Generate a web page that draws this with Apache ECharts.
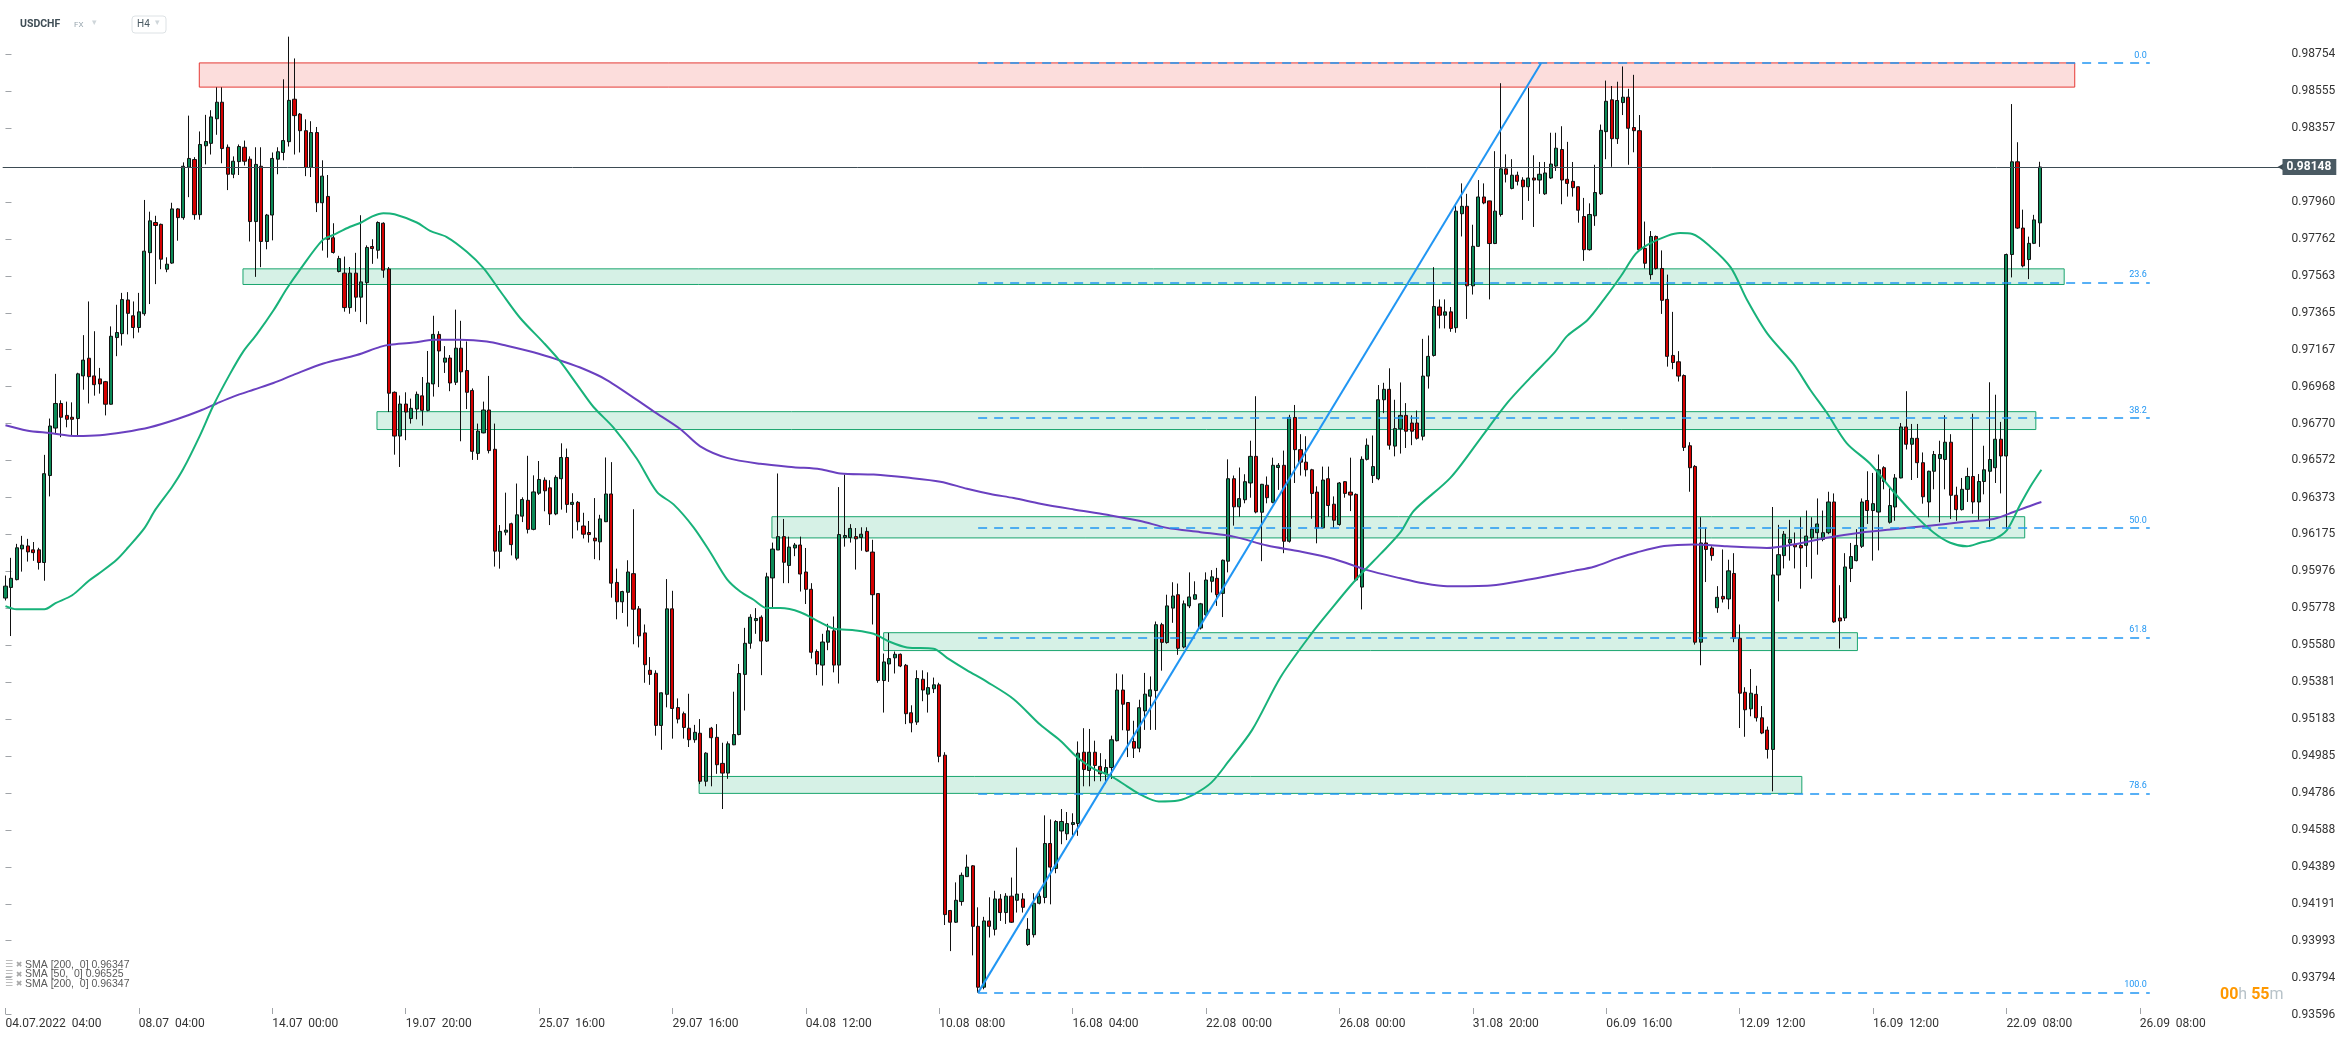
<!DOCTYPE html>
<html><head><meta charset="utf-8">
<script src="https://cdn.jsdelivr.net/npm/echarts@6/dist/echarts.min.js"></script>
<style>html,body{margin:0;padding:0;background:#fff;}#c{width:2346px;height:1039px;}</style>
</head><body><div id="c"></div>
<script>
// ---------- DATA (prices in 1e-5 units) ----------
const opens = [
95833,95890,95932,96097,96113,96092,96092,96024,96491,96746,
96878,96814,96804,96797,97026,97121,97026,97010,96995,96874,
97232,97253,97434,97349,97286,97360,97688,97850,97840,97599,
97632,97923,97876,98147,98188,97892,98262,98275,98407,98496,
98254,98109,98177,98254,98190,97855,98152,97748,97890,98190,
98226,98284,98512,98432,98343,98146,98333,97956,97990,97768,
97587,97578,97393,97578,97449,97527,97721,97701,97846,97600,
96938,96703,96875,96797,96848,96919,96841,96983,97249,97100,
97122,96992,97175,97055,96948,96610,96720,96843,96632,96084,
96187,96232,96047,96273,96358,96202,96396,96466,96425,96285,
96474,96588,96336,96347,96220,96185,96155,96135,96243,96392,
95917,95813,95864,95964,95775,95646,95445,95429,95149,95316,
95775,95245,95212,95134,95072,95107,94849,95134,95085,94945,
94893,95045,95100,95423,95590,95712,95730,95602,95941,96091,
96163,96008,96102,96118,95973,95880,95546,95473,95596,95657,
95473,96158,96158,96163,96158,96191,96080,95857,95390,95479,
95512,95531,95472,95217,95167,95397,95317,95346,95367,94989,
94155,94092,94203,94337,94395,94070,93743,94099,94054,94217,
94144,94232,94210,94217,93972,94025,94194,94225,94515,94381,
94582,94567,94617,94622,95005,94907,95005,94929,94889,94923,
95067,95339,95272,95063,95027,95227,95306,95336,95690,95594,
95779,95851,95570,95791,95827,95672,95743,95923,95939,95858,
96031,96474,96323,96361,96451,96594,96294,96439,96347,96534,
96546,96138,96803,96630,96563,96522,96402,96210,96474,96337,
96228,96458,96402,96390,95892,96578,96491,96474,96898,96954,
96649,96742,96814,96773,96773,96702,97025,97136,97396,97352,
97370,97285,97897,97937,97510,97722,97987,97966,97737,97893,
98138,98033,98104,98078,98042,98089,98078,98004,98089,98153,
98242,98082,98071,98042,97882,97704,97886,98004,98338,98509,
98300,98494,98523,98360,98343,97711,97570,97775,97603,97437,
97136,97102,97028,96651,96540,95596,96129,96102,95781,95842,
95828,95965,95617,95327,95238,95316,95190,95124,95020,95957,
96061,96129,96121,96116,96116,96157,96184,96148,96184,96349,
95726,95726,95992,96034,96111,96357,96303,96295,96533,96240,
96322,96478,96752,96659,96691,96560,96349,96514,96582,96577,
96670,96385,96308,96417,96486,96349,96459,96514,96533,96686,
96596,97678,98176,97820,97651,97738,97848];
const highs = [
95954,96049,96124,96167,96151,96134,96103,96602,96797,97037,
96895,96888,96884,97043,97245,97426,97266,97069,96999,97292,
97408,97472,97476,97426,97472,97971,97908,97886,97844,97663,
97956,97927,98173,98424,98201,98339,98428,98453,98576,98576,
98269,98205,98269,98290,98205,98254,98254,97896,98226,98254,
98619,98848,98731,98438,98404,98394,98363,98184,98105,97846,
97671,97667,97611,97687,97889,97727,97760,97856,97851,97611,
96943,96921,96938,96904,96942,97020,97160,97349,97266,97186,
97138,97382,97322,97211,96959,96770,96888,97026,96770,96225,
96399,96238,96448,96374,96597,96492,96569,96481,96466,96492,
96664,96636,96396,96354,96291,96247,96370,96280,96588,96563,
95991,95872,96036,96310,95790,95691,95516,95445,95326,95935,
95872,95294,95223,95319,95152,95183,95005,95141,95156,95056,
95063,95330,95479,95673,95746,95779,95740,95969,96131,96502,
96258,96163,96129,96163,96102,95913,95557,95641,95695,95734,
96429,96496,96230,96209,96213,96213,96146,95857,95535,95646,
95546,95535,95479,95257,95445,95445,95434,95406,95378,95005,
94158,94306,94359,94455,94399,94172,94121,94226,94261,94243,
94248,94332,94493,94248,94114,94248,94248,94666,94644,94640,
94700,94684,94677,95063,95134,95130,95067,95000,94967,95094,
95428,95423,95274,95174,95287,95431,95412,95707,95700,95851,
95918,95911,95820,95971,95923,95807,95971,95983,95995,96040,
96578,96491,96534,96498,96678,96917,96446,96486,96587,96558,
96625,96817,96870,96713,96702,96527,96433,96539,96539,96379,
96456,96461,96587,96395,96594,96690,96706,96977,96989,97067,
96898,96991,96880,96814,96840,97225,97243,97610,97437,97437,
97396,97942,98060,98004,97838,98078,98060,97967,98233,98598,
98216,98190,98123,98093,98572,98211,98175,98175,98332,98332,
98367,98283,98175,98044,97982,97953,98160,98376,98612,98583,
98606,98688,98568,98643,98427,97855,97804,97780,97700,97570,
97370,97159,97034,96670,96547,96267,96212,96111,95897,96094,
96039,96074,95691,95354,95452,95362,95253,95143,96322,96226,
96193,96253,96185,96267,96303,96267,96368,96303,96404,96395,
95902,96074,96129,96203,96368,96514,96505,96604,96541,96423,
96499,96773,96944,96768,96768,96615,96517,96623,96678,96815,
96713,96431,96478,96533,96823,96499,96651,96992,96925,96779,
97683,98486,98281,97919,97774,97891,98176];
const lows = [
95820,95629,95928,95975,96029,96033,95986,95926,96379,96719,
96697,96750,96707,96707,96952,96878,96920,96931,96814,96872,
97132,97189,97249,97228,97259,97349,97412,97519,97599,97583,
97628,97752,97865,97986,97865,97865,98162,98215,98321,98168,
98024,98088,98105,98156,97748,97558,97610,97706,97754,98109,
98184,98258,98215,98226,98099,98094,97906,97699,97661,97683,
97582,97371,97360,97371,97315,97304,97628,97656,97553,96832,
96603,96537,96681,96770,96793,96759,96836,96915,96966,97042,
96944,96977,96675,96848,96575,96575,96718,96610,96002,95991,
96170,96062,96036,96241,96180,96197,96387,96299,96225,96278,
96308,96291,96153,96196,96153,96131,96042,96036,96241,95835,
95719,95753,95680,95585,95568,95378,95367,95094,95018,95246,
95078,95160,95078,95033,95056,94834,94822,94822,94889,94700,
94862,95043,95096,95229,95561,95641,95419,95597,95784,96091,
95913,95913,96058,95868,95801,95508,95419,95363,95553,95434,
95374,96109,96131,95986,96087,96080,95691,95378,95218,95383,
95428,95462,95156,95112,95152,95279,95218,95323,94951,94077,
93937,94088,94181,94336,93914,93714,93732,94010,94021,94099,
94083,94088,94144,94144,93965,94010,94188,94194,94188,94355,
94511,94533,94560,94556,94822,94822,94849,94849,94834,94862,
95063,95123,94979,94974,95005,95125,95125,95125,95443,95588,
95700,95528,95563,95779,95825,95664,95736,95863,95791,95731,
95971,96222,96270,96342,96372,96288,96031,96342,96342,96414,
96074,96131,96451,96491,96486,96259,96127,96207,96270,96210,
96222,96372,96300,95923,95772,96572,96451,96466,96826,96630,
96594,96609,96639,96654,96684,96680,96958,97130,97281,97281,
97263,97258,97775,97332,97463,97719,97948,97437,97734,97882,
98065,98028,98049,97864,97966,97826,98004,97998,98084,98127,
97948,97989,97989,97849,97644,97699,97832,97998,98190,98149,
98272,98427,98160,98227,97699,97603,97543,97597,97359,97076,
97062,96996,96623,96404,95583,95472,95919,96034,95754,95809,
95773,95596,95135,95088,95198,95170,95102,94971,94795,95815,
95992,96034,95992,95883,96000,95937,96066,96138,96176,95700,
95562,95710,95919,96030,96102,96231,96034,96089,96417,96233,
96248,96476,96631,96467,96478,96340,96267,96417,96240,96417,
96258,96248,96303,96349,96286,96253,96390,96203,96451,96395,
96203,97555,97815,97609,97546,97734,97719];
const closes = [
95897,95939,96103,96117,96081,96077,96024,96501,96757,96878,
96804,96793,96793,97037,97111,97022,96979,96983,96874,97239,
97259,97436,97362,97286,97370,97696,97859,97834,97653,97626,
97923,97876,98152,98194,97892,98269,98285,98417,98496,98247,
98109,98179,98258,98179,97855,98162,97748,97890,98194,98230,
98290,98506,98424,98343,98146,98333,97956,98099,97760,97689,
97656,97393,97578,97449,97531,97716,97710,97850,97594,96933,
96703,96875,96832,96852,96927,96841,96988,97249,97160,97122,
96988,97175,97048,96938,96621,96730,96843,96625,96085,96191,
96198,96120,96280,96362,96202,96403,96470,96409,96285,96481,
96588,96336,96347,96243,96176,96174,96140,96258,96392,95913,
95813,95868,95973,95773,95630,95475,95423,95149,95324,95775,
95240,95183,95138,95072,95112,94849,95000,95083,94938,94893,
95050,95100,95428,95590,95730,95723,95602,95947,96096,96163,
96025,96107,96118,95962,95880,95542,95479,95597,95657,95473,
96174,96169,96207,96151,96176,96085,95851,95390,95490,95508,
95531,95468,95212,95163,95401,95339,95352,95367,94983,94133,
94092,94210,94344,94388,94070,93743,94099,94070,94217,94144,
94232,94092,94243,94172,94054,94194,94232,94515,94388,94633,
94633,94622,94627,95000,94912,95005,94934,94889,94923,95072,
95339,95263,95123,95027,95244,95317,95340,95690,95595,95791,
95844,95563,95802,95839,95851,95802,95930,95947,95851,96036,
96474,96323,96367,96458,96594,96295,96444,96372,96546,96546,
96138,96803,96630,96563,96522,96395,96210,96467,96330,96251,
96451,96395,96386,95930,96578,96654,96539,96898,96954,96654,
96743,96814,96729,96729,96691,97025,97131,97399,97352,97370,
97281,97911,97937,97510,97722,97987,97955,97737,97911,98138,
98109,98104,98071,98042,98089,98078,98109,98116,98164,98249,
98078,98060,98037,97916,97704,97893,98011,98345,98501,98300,
98505,98523,98356,98343,97704,97631,97775,97603,97432,97131,
97098,97025,96642,96533,95596,96129,96094,96061,95837,95828,
95979,95617,95322,95233,95322,95190,95108,95020,95957,96066,
96176,96148,96108,96102,96166,96203,96231,96184,96349,95705,
95710,96000,96056,96116,96349,96303,96340,96522,96459,96330,
96478,96752,96659,96691,96560,96377,96514,96604,96604,96670,
96385,96308,96417,96486,96349,96459,96522,96577,96686,96596,
97678,98176,97820,97617,97738,97864,98148];

// SMA lines: candle index and value (1e-5 units)
const sma50Idx = [0,2,7,9,12,15,17,20,22,25,27,30,32,35,37.4,40.4,42.8,45.2,48.2,50.6,53,57,59,62,64,66,68,70,74,76.4,79.4,83,86,89,92.6,96.8,99.8,103,105.8,109.4,113.6,117.2,120.2,123.8,126.8,129.8,132.2,134.6,137,139.4,143,146.6,149,153,156.2,159.2,162.2,167,169.4,173,176.6,181.4,186.2,189.8,192.8,195.8,198.8,201.8,204.2,207.5,211,214,217,220,224.3,229.4,234.8,239,242,244.4,247.4,251,253.4,260,265.4,270.2,274.4,278.6,281,284.6,287.6,290.6,293.3,295.4,299,301.3,303.5,306.8,310.4,313.4,317,321.7,324.7,327.7,331.3,335.5,339.7,343.3,346.9,349.9,352.9,355.3,357.7,360.1,362.5,364.3,366.3];
const sma50Val = [95790,95773,95773,95806,95848,95926,95969,96039,96103,96209,96309,96431,96527,96707,96867,97037,97158,97249,97377,97494,97597,97754,97783,97827,97850,97883,97900,97894,97850,97805,97772,97693,97605,97482,97337,97205,97104,96973,96859,96748,96581,96403,96336,96213,96079,95935,95868,95824,95779,95779,95757,95702,95669,95659,95641,95597,95568,95561,95512,95445,95383,95290,95152,95067,94978,94916,94878,94822,94778,94741,94746,94782,94843,94954,95125,95408,95635,95791,95899,95978,96070,96187,96302,96480,96691,96881,97018,97148,97241,97325,97437,97560,97681,97730,97778,97793,97788,97719,97609,97431,97253,97089,96952,96828,96664,96554,96404,96285,96185,96130,96111,96130,96148,96198,96335,96431,96522];
const sma200Idx = [0,3.8,8,12.8,17,21.2,26,30.8,35,38,41,44.6,48.2,52,57.2,63.2,67.4,69.2,73.4,77,81.8,86.6,90.2,95,99.2,103.4,108.2,116.6,121.4,125,129.8,135.8,141.8,146.6,150.2,156.2,162.2,168.2,173,177.2,181.4,186.2,192.2,198.2,204.2,209,215,221,227,233,239,245,251,255.2,259.4,267.2,274.4,282.2,285.8,290,293.6,298.4,303.7,309.7,316.9,321.7,327.7,333.7,339.7,345.7,351.7,357.7,361.3,363.7,366.3];
const sma200Val = [96761,96733,96719,96703,96707,96723,96750,96793,96839,96878,96915,96952,96988,97034,97093,97138,97182,97193,97205,97220,97220,97211,97188,97153,97115,97071,97004,96836,96741,96648,96586,96554,96536,96525,96502,96496,96480,96458,96420,96392,96370,96340,96309,96280,96247,96210,96187,96163,96115,96083,96043,95983,95939,95912,95897,95901,95934,95979,96001,96046,96079,96112,96121,96111,96102,96121,96157,96184,96203,96220,96240,96258,96295,96322,96349];

// Zones (price top / bottom, candle index start / end)
const zoneTop    = [0.98707, 0.97601, 0.96834, 0.96270, 0.95647, 0.94875];
const zoneBottom = [0.98577, 0.97517, 0.96738, 0.96156, 0.95551, 0.94784];
const zoneStart  = [34.87, 42.73, 66.84, 137.9, 158.0, 124.8];
const zoneEnd    = [372.3, 370.4, 365.3, 363.3, 333.2, 323.2];
const zoneKind   = ['res','sup','sup','sup','sup','sup'];

// Fibonacci retracement anchors (Aug low -> Sep high)
const fibHigh = 0.98707, fibLow = 0.93714;
const fibLevels = [0, 23.6, 38.2, 50, 61.8, 78.6, 100];
const fibLabels = ['0.0','23.6','38.2','50.0','61.8','78.6','100.0'];
const fibStartIdx = 175, fibEndIdx = 385.8;
// trend line anchors
const trendIdx = [175, 276.3];
const trendVal = [0.93714, 0.98707];

const lastPrice = 0.98148;
const yTickLabels = ['0.98754','0.98555','0.98357','0.97960','0.97762','0.97563','0.97365','0.97167','0.96968','0.96770','0.96572','0.96373','0.96175','0.95976','0.95778','0.95580','0.95381','0.95183','0.94985','0.94786','0.94588','0.94389','0.94191','0.93993','0.93794','0.93596'];
const xTickLabels = ['04.07.2022  04:00','08.07  04:00','14.07  00:00','19.07  20:00','25.07  16:00','29.07  16:00','04.08  12:00','10.08  08:00','16.08  04:00','22.08  00:00','26.08  00:00','31.08  20:00','06.09  16:00','12.09  12:00','16.09  12:00','22.09  08:00','26.09  08:00'];
const legendLines = ['SMA [200,  0] 0.96347','SMA [50,  0] 0.96525','SMA [200,  0] 0.96347'];

// ---------- BUILD ----------
const P = 1e5;
const N_SLOTS = 410;
const LABEL_STEP = 24;
const FONT = 'Roboto, "Noto Sans", sans-serif';
const Y_MIN = 0.934649, Y_MAX = 0.990449;

const xCats = Array.from({length: N_SLOTS}, (_, i) => String(i));
const candleData = opens.map((o, i) => [o / P, closes[i] / P, lows[i] / P, highs[i] / P]);
const sma50Data = sma50Idx.map((x, i) => [x, sma50Val[i] / P]);
const sma200Data = sma200Idx.map((x, i) => [x, sma200Val[i] / P]);
const yTickVals = yTickLabels.map(Number);

const zoneAreas = zoneTop.map((t, i) => {
  const res = zoneKind[i] === 'res';
  return [
    {coord: [zoneStart[i], t], itemStyle: {
      color: res ? 'rgba(239,83,80,0.20)' : 'rgba(26,175,115,0.18)',
      borderColor: res ? '#e53935' : '#1aa56e', borderWidth: 1}},
    {coord: [zoneEnd[i], zoneBottom[i]]}
  ];
});
const fibLines = fibLevels.map((lv, i) => {
  const price = fibHigh - (fibHigh - fibLow) * lv / 100;
  return [{name: fibLabels[i], coord: [fibStartIdx, price]}, {coord: [fibEndIdx, price]}];
});

const chart = echarts.init(document.getElementById('c'), null, {renderer: 'canvas'});
chart.setOption({
  animation: false,
  backgroundColor: '#ffffff',
  grid: {left: 2.7, right: 64.5, top: 0, bottom: 0},
  xAxis: [{
    type: 'category', data: xCats, boundaryGap: true, offset: -25,
    axisLine: {show: false},
    axisTick: {show: true, inside: true, length: 6, alignWithLabel: true,
      interval: (i) => i % LABEL_STEP === 0 && i / LABEL_STEP < xTickLabels.length,
      lineStyle: {color: '#a0a4a8'}},
    axisLabel: {show: true,
      interval: (i) => i % LABEL_STEP === 0 && i / LABEL_STEP < xTickLabels.length,
      formatter: (v, i) => xTickLabels[i / LABEL_STEP] || '',
      align: 'left', margin: 4, color: '#333', fontSize: 12, fontFamily: FONT},
    splitLine: {show: false}
  }, {
    type: 'value', min: -0.5, max: N_SLOTS - 0.5, show: false
  }],
  yAxis: {
    type: 'value', position: 'right', min: Y_MIN, max: Y_MAX, scale: true,
    axisLine: {show: false}, splitLine: {show: false},
    axisTick: {show: true, length: 6, customValues: yTickVals, lineStyle: {color: '#a0a4a8'}},
    axisLabel: {customValues: yTickVals, formatter: (v) => v.toFixed(5), margin: 10,
      color: '#333', fontSize: 12, fontFamily: FONT}
  },
  series: [
    { // zones
      type: 'line', xAxisIndex: 1, data: [], z: 1, silent: true,
      markArea: {silent: true, data: zoneAreas}
    },
    {
      type: 'candlestick', xAxisIndex: 0, data: candleData, barWidth: 3.6, z: 3,
      itemStyle: {color: '#0b8a57', color0: '#d50000', borderColor: '#111', borderColor0: '#111', borderWidth: 1}
    },
    {
      type: 'line', name: 'SMA200', xAxisIndex: 1, data: sma200Data, smooth: 0.3, showSymbol: false,
      z: 4, lineStyle: {color: '#6a40c0', width: 2},
      markLine: {
        silent: true, precision: 5, symbol: ['none', 'path://M0,0 L10,0 L5,10 Z'], symbolSize: [9, 8],
        data: [{yAxis: lastPrice}],
        lineStyle: {color: '#3d4b53', width: 1, type: 'solid'},
        label: {show: true, position: 'end', distance: 1, formatter: lastPrice.toFixed(5),
          backgroundColor: '#4a5a63', color: '#fff', fontWeight: 'bold', fontSize: 12,
          fontFamily: FONT, padding: [2, 5, 2, 4]}
      }
    },
    {
      type: 'line', name: 'SMA50', xAxisIndex: 1, data: sma50Data, smooth: 0.3, showSymbol: false,
      z: 4, lineStyle: {color: '#18b27a', width: 2}
    },
    {
      type: 'line', name: 'trend', xAxisIndex: 1, z: 5,
      data: trendIdx.map((x, i) => [x, trendVal[i]]), showSymbol: false,
      lineStyle: {color: '#2196f3', width: 2},
      markLine: {
        silent: true, precision: 5, symbol: 'none', data: fibLines,
        lineStyle: {color: '#2196f3', width: 1.6, type: [9, 7]},
        label: {show: true, position: 'insideEndTop', formatter: '{b}', color: '#2196f3',
          fontSize: 9, fontFamily: FONT, distance: 3}
      }
    }
  ],
  graphic: [
    {type: 'text', x: 20, y: 24, style: {text: 'USDCHF', fill: '#3f4d55', font: 'bold 10.5px Roboto', verticalAlign: 'middle'}},
    {type: 'text', x: 74, y: 24.5, style: {text: 'FX', fill: '#9aa7b0', font: '8px Roboto', verticalAlign: 'middle'}},
    {type: 'text', x: 92, y: 23, style: {text: '▾', fill: '#cfd6da', font: '9px "DejaVu Sans"', verticalAlign: 'middle'}},
    {type: 'rect', shape: {x: 132, y: 16, width: 34, height: 17, r: 3}, style: {fill: '#fff', stroke: '#dde2e5', lineWidth: 1}},
    {type: 'text', x: 137, y: 24.5, style: {text: 'H4', fill: '#4a5a63', font: '10px Roboto', verticalAlign: 'middle'}},
    {type: 'text', x: 155, y: 23, style: {text: '▾', fill: '#cfd6da', font: '9px "DejaVu Sans"', verticalAlign: 'middle'}},
    ...legendLines.map((t, i) => ({
      type: 'text', x: 5, y: 965 + i * 9.5,
      style: {text: '{ic|☰} {x|✖} {t|' + t + '}', verticalAlign: 'middle', font: '10.5px Roboto',
        rich: {ic: {fill: '#a8a8a8', font: '9px "DejaVu Sans"'}, x: {fill: '#a8a8a8', font: '8px "DejaVu Sans"'},
               t: {fill: '#5a5a5a', font: '10.5px "Liberation Sans"'}}}
    })),
    {type: 'text', x: 2220, y: 995, style: {text: '{o|00}{g|h} {o|55}{g|m}', verticalAlign: 'middle',
      font: 'bold 16px Roboto', rich: {o: {fill: '#ff9800', font: 'bold 16px Roboto'}, g: {fill: '#b8c3c9', font: '16px Roboto'}}}}
  ]
});
</script>
</body></html>
